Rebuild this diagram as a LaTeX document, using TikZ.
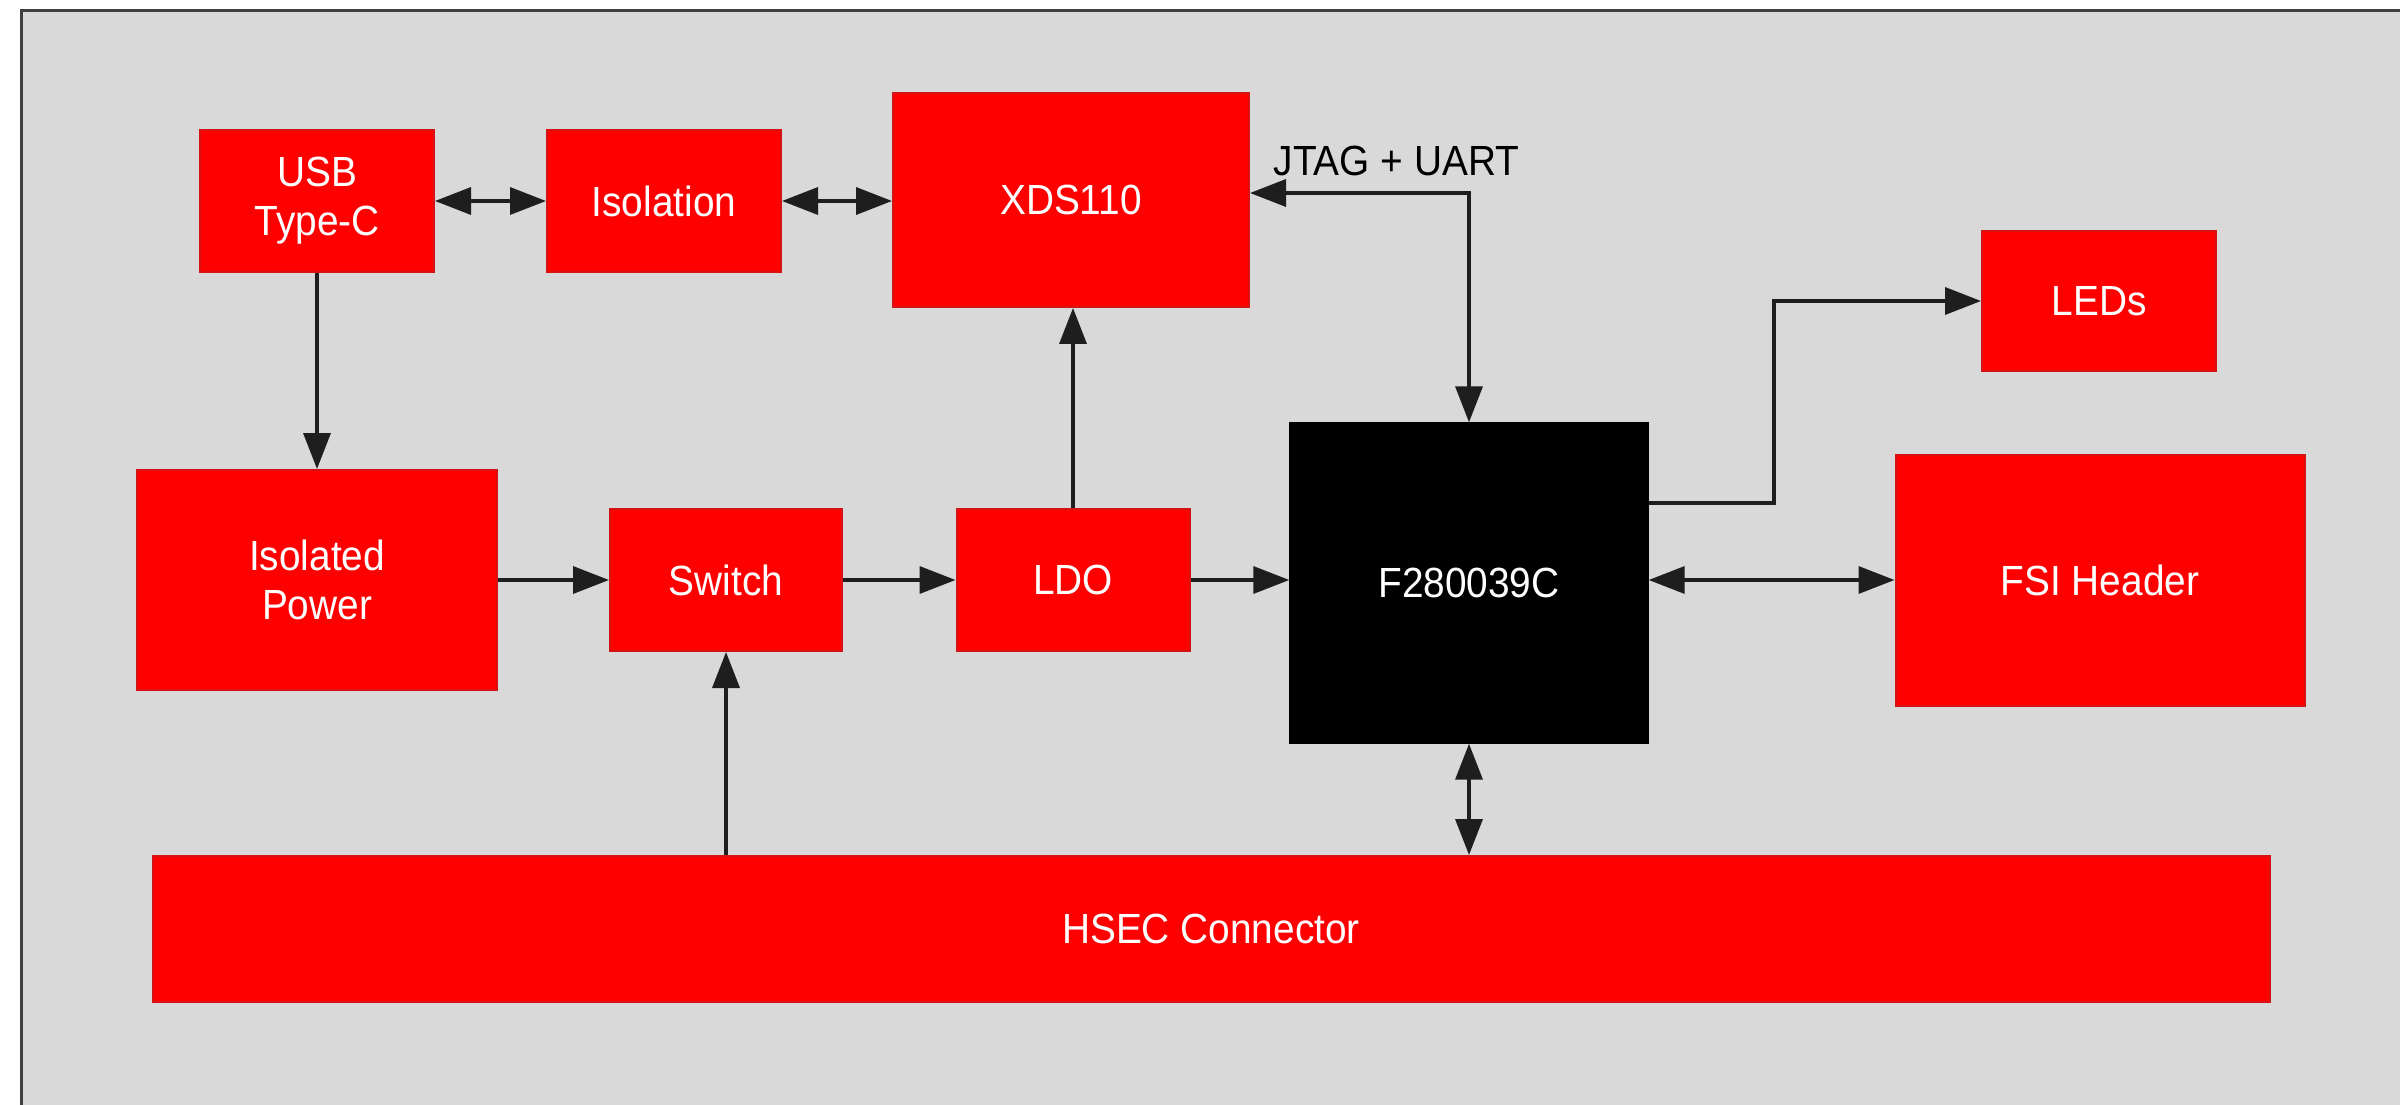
\documentclass[tikz,border=0pt]{standalone}
\usepackage{fontspec}
\setmainfont[FakeStretch=0.92]{Liberation Sans}
\usepackage{tikz}
\usetikzlibrary{arrows.meta}
\usetikzlibrary{shapes}

\definecolor{bgGray}{RGB}{217,217,217}
\definecolor{frameGray}{RGB}{64,64,64}
\definecolor{blkRed}{RGB}{255,0,0}
\definecolor{blkEdge}{RGB}{214,18,18}
\definecolor{wireGray}{RGB}{30,30,30}

\tikzset{
  blk/.style={rectangle, fill=blkRed, draw=blkEdge, line width=0.2mm, inner sep=0pt, align=center, text=white, font=\fontsize{12}{14}\selectfont},
  chip/.style={rectangle, fill=black, draw=black, inner sep=0pt, align=center, text=white, font=\fontsize{12}{14}\selectfont},
  wire/.style={draw=wireGray, line width=0.35mm, -{Triangle[length=3.6mm,width=2.7mm]}},
  bwire/.style={draw=wireGray, line width=0.35mm, {Triangle[length=3.6mm,width=2.7mm]}-{Triangle[length=3.6mm,width=2.7mm]}}
}

\begin{document}
\begin{tikzpicture}[x=0.1mm,y=0.1mm,yscale=-1,xscale=1]
\useasboundingbox (0,0) rectangle (2400,1105);

%Shape: Frame
\fill [bgGray] (21,10) rectangle (2400,1105);
\draw [frameGray, line width=0.3mm] (21.5,1105) -- (21.5,10.5) -- (2400,10.5);

%Shape: Rectangle [usb]
\node [blk, minimum width=23.4mm, minimum height=14.2mm] (usb) at (317,201) {USB\\Type-C};
%Shape: Rectangle [iso]
\node [blk, minimum width=23.4mm, minimum height=14.2mm] (iso) at (664,201) {Isolation};
%Shape: Rectangle [xds]
\node [blk, minimum width=35.6mm, minimum height=21.4mm] (xds) at (1071,200) {XDS110};
%Shape: Rectangle [leds]
\node [blk, minimum width=23.4mm, minimum height=14mm] (leds) at (2099,301) {LEDs};
%Shape: Rectangle [ipwr]
\node [blk, minimum width=36mm, minimum height=22mm] (ipwr) at (317,580) {Isolated\\Power};
%Shape: Rectangle [sw]
\node [blk, minimum width=23.2mm, minimum height=14.2mm] (sw) at (726,580) {Switch};
%Shape: Rectangle [ldo]
\node [blk, minimum width=23.3mm, minimum height=14.2mm] (ldo) at (1073,580) {LDO};
%Shape: Rectangle [mcu]
\node [chip, minimum width=35.8mm, minimum height=32mm] (mcu) at (1469,583) {F280039C};
%Shape: Rectangle [fsi]
\node [blk, minimum width=40.9mm, minimum height=25.1mm] (fsi) at (2100,580) {FSI Header};
%Shape: Rectangle [hsec]
\node [blk, minimum width=211.7mm, minimum height=14.6mm] (hsec) at (1211,929) {HSEC Connector};

%Straight Lines
\draw [bwire] (usb) -- (iso);
\draw [bwire] (iso) -- (xds.west |- iso);
\draw [wire] (usb) -- (ipwr);
\draw [wire] (ipwr) -- (sw);
\draw [wire] (sw) -- (ldo);
\draw [wire] (ldo) -- (mcu.west |- ldo);
\draw [wire] (ldo.north) -- (ldo.north |- xds.south);
\draw [wire] (sw.south |- hsec.north) -- (sw.south);
\draw [bwire] (mcu.east |- fsi) -- (fsi);
\draw [bwire] (mcu.south) -- (mcu.south |- hsec.north);

%Elbow Lines
\coordinate (jtag) at (1469,193);
\draw [bwire] (xds.east |- jtag) -- (jtag) -- (mcu.north);
\coordinate (ledbend) at (1774,503);
\draw [wire] (mcu.east |- ledbend) -- (ledbend) |- (leds.west);

% Text Node
\node [anchor=west, inner sep=0pt, font=\fontsize{12}{14}\selectfont] (jtaglbl) at (1273,161) {JTAG + UART};

\end{tikzpicture}
\end{document}
